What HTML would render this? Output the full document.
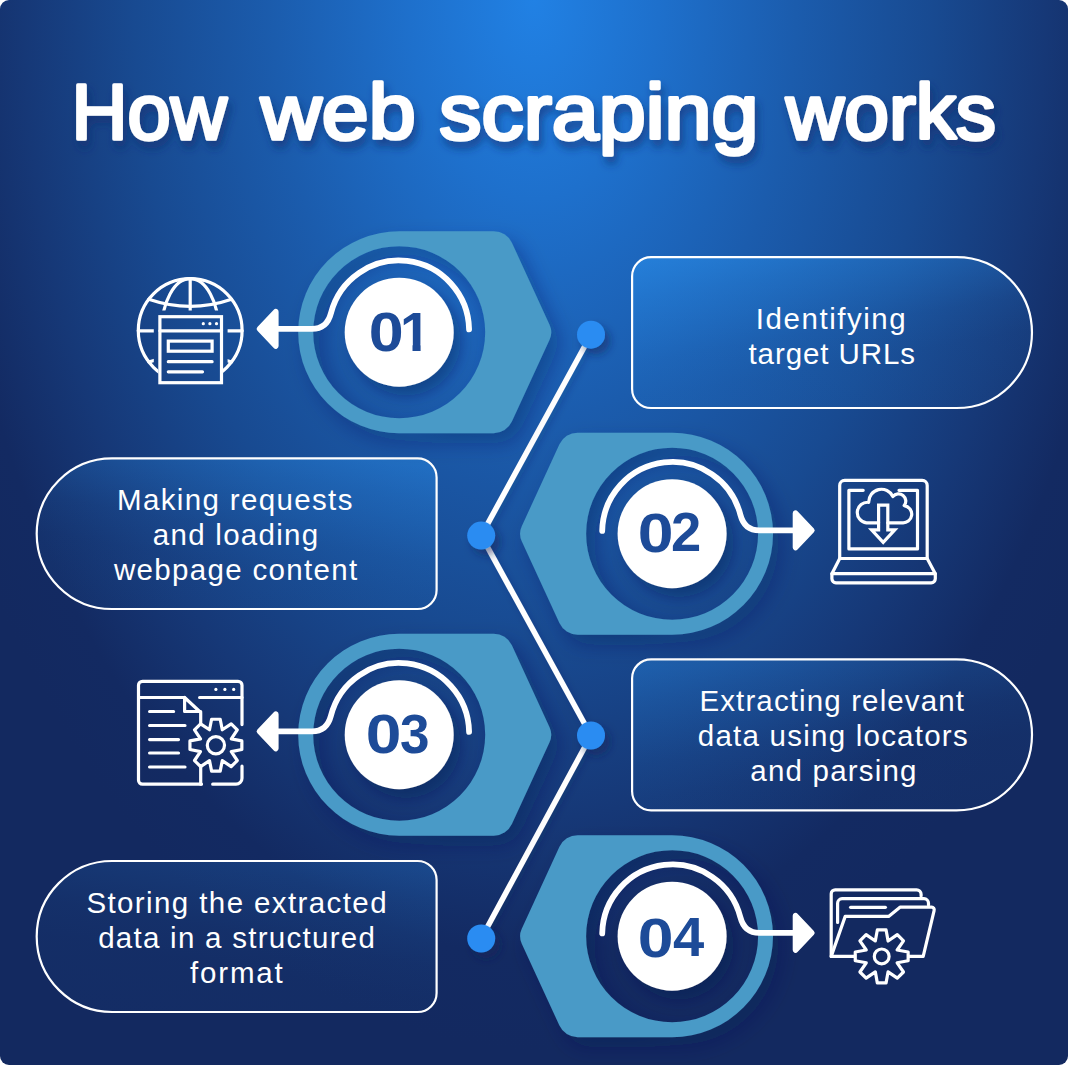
<!DOCTYPE html>
<html lang="en"><head><meta charset="utf-8"><title>How web scraping works</title>
<style>
html,body{margin:0;padding:0;background:#fff}
#card{position:absolute;left:0;top:0;width:1068px;height:1065px;border-radius:9px;overflow:hidden;
background:radial-gradient(ellipse 655px 1050px at 50% 0,#2181e4 0%,#1e70cc 19%,#1b5cad 40%,#184a91 61%,#163877 78%,#132a62 91%,#132960 100%)}
svg{position:absolute;left:0;top:0}
text{font-family:"Liberation Sans",Arial,sans-serif;white-space:pre}
.ttl{font-weight:normal;font-size:77.6px;fill:#fff;stroke:#fff;stroke-width:3.4px;stroke-linejoin:round}
.p{font-size:29.5px;fill:#fff}
.n{font-weight:bold;font-size:55px;fill:#1d4b98}
.ic{fill:none;stroke:#fff;stroke-width:3.2;stroke-linecap:round;stroke-linejoin:round}
</style></head><body>
<div id="card">
<svg width="1068" height="1073" viewBox="0 0 1068 1073">
<defs>
<filter id="ds" x="-30%" y="-30%" width="170%" height="170%"><feDropShadow dx="8" dy="10" stdDeviation="10" flood-color="#0a1c55" flood-opacity=".34"/></filter>
<filter id="ds2" x="-40%" y="-40%" width="190%" height="190%"><feDropShadow dx="7" dy="9" stdDeviation="7" flood-color="#081a50" flood-opacity=".36"/></filter>
<filter id="ds3" x="-10%" y="-10%" width="130%" height="130%"><feDropShadow dx="5" dy="6" stdDeviation="4" flood-color="#0a1c55" flood-opacity=".5"/></filter>
<filter id="ds4" x="-10%" y="-10%" width="130%" height="130%"><feDropShadow dx="3" dy="4" stdDeviation="3.5" flood-color="#0a1c55" flood-opacity=".22"/></filter>
<filter id="tsh" x="-5%" y="-30%" width="110%" height="180%"><feDropShadow dx="3" dy="7" stdDeviation="4.5" flood-color="#0b2a6e" flood-opacity=".6"/></filter>
<linearGradient id="bgR" x1="0" y1="0" x2=".511" y2="1.095"><stop offset="0" stop-color="#2a8eea" stop-opacity=".62"/><stop offset=".22" stop-color="#2a8eea" stop-opacity=".4"/><stop offset=".53" stop-color="#2a8eea" stop-opacity=".17"/><stop offset=".71" stop-color="#2a8eea" stop-opacity=".11"/><stop offset="1" stop-color="#2a8eea" stop-opacity=".09"/></linearGradient>
<linearGradient id="bgL" x1="1" y1="0" x2=".489" y2="1.095"><stop offset="0" stop-color="#2a8eea" stop-opacity=".62"/><stop offset=".22" stop-color="#2a8eea" stop-opacity=".4"/><stop offset=".53" stop-color="#2a8eea" stop-opacity=".17"/><stop offset=".71" stop-color="#2a8eea" stop-opacity=".11"/><stop offset="1" stop-color="#2a8eea" stop-opacity=".09"/></linearGradient>
</defs>

<g stroke="#fff" stroke-width="2.2">
<path d="M651.1 257.2H956.6A75.4 75.4 0 0 1 956.6 408H651.1A19 19 0 0 1 632.1 389V276.2A19 19 0 0 1 651.1 257.2Z" fill="url(#bgR)" fill-opacity="1"/>
<path d="M112 458.4H417.6A19 19 0 0 1 436.6 477.4V590A19 19 0 0 1 417.6 609H112A75.3 75.3 0 0 1 112 458.4Z" fill="url(#bgL)" fill-opacity="0.74"/>
<path d="M651.1 659.3H956.5A75.5 75.5 0 0 1 956.5 810.3H651.1A19 19 0 0 1 632.1 791.3V678.3A19 19 0 0 1 651.1 659.3Z" fill="url(#bgR)" fill-opacity="0.6"/>
<path d="M112.2 861H417.6A19 19 0 0 1 436.6 880V993A19 19 0 0 1 417.6 1012H112.2A75.5 75.5 0 0 1 112.2 861Z" fill="url(#bgL)" fill-opacity="0.42"/>
</g>
<g filter="url(#ds4)"><polyline points="591,334.7 481.2,535.6 591,735.5 481.2,938.5" fill="none" stroke="#fff" stroke-width="5.5" stroke-linejoin="round" stroke-linecap="round"/></g>
<path d="M399.2 231.2L493.69 231.2A20 20 0 0 1 511.86 242.84L549.53 324.67A18 18 0 0 1 549.53 339.73L511.86 421.56A20 20 0 0 1 493.69 433.2L399.2 433.2A101 101 0 0 1 399.2 231.2ZM313.2 332.2a86 86 0 1 0 172 0a86 86 0 1 0 -172 0Z" fill="#499ac7" fill-rule="evenodd" filter="url(#ds)"/>
<path d="M672.1 432.7L577.61 432.7A20 20 0 0 0 559.44 444.34L521.77 526.17A18 18 0 0 0 521.77 541.23L559.44 623.06A20 20 0 0 0 577.61 634.7L672.1 634.7A101 101 0 0 0 672.1 432.7ZM586.1 533.7a86 86 0 1 0 172 0a86 86 0 1 0 -172 0Z" fill="#499ac7" fill-rule="evenodd" filter="url(#ds)"/>
<path d="M399.2 633.7L493.69 633.7A20 20 0 0 1 511.86 645.34L549.53 727.17A18 18 0 0 1 549.53 742.23L511.86 824.06A20 20 0 0 1 493.69 835.7L399.2 835.7A101 101 0 0 1 399.2 633.7ZM313.2 734.7a86 86 0 1 0 172 0a86 86 0 1 0 -172 0Z" fill="#499ac7" fill-rule="evenodd" filter="url(#ds)"/>
<path d="M672.1 835.2L577.61 835.2A20 20 0 0 0 559.44 846.84L521.77 928.67A18 18 0 0 0 521.77 943.73L559.44 1025.56A20 20 0 0 0 577.61 1037.2L672.1 1037.2A101 101 0 0 0 672.1 835.2ZM586.1 936.2a86 86 0 1 0 172 0a86 86 0 1 0 -172 0Z" fill="#499ac7" fill-rule="evenodd" filter="url(#ds)"/>
<circle cx="399.2" cy="332.2" r="54.5" fill="#fff" filter="url(#ds2)"/>
<path d="M469.09 329.35A70.2 70.2 0 0 0 330.92 313.2C328.67 321.92 322.92 328.9 311.92 328.9L276.6 328.9" fill="none" stroke="#fff" stroke-width="5.8" stroke-linecap="round"/>
<path d="M278.6 311.71A2.8 2.8 0 0 0 273.77 309.78L257.43 326.97A2.8 2.8 0 0 0 257.43 330.83L273.77 348.02A2.8 2.8 0 0 0 278.6 346.09Z" fill="#fff"/>
<circle cx="672.1" cy="533.7" r="54.5" fill="#fff" filter="url(#ds2)"/>
<path d="M602.21 530.85A70.2 70.2 0 0 1 740.38 514.7C742.63 523.42 748.38 530.4 759.38 530.4L794.7 530.4" fill="none" stroke="#fff" stroke-width="5.8" stroke-linecap="round"/>
<path d="M792.7 513.21A2.8 2.8 0 0 1 797.53 511.28L813.87 528.47A2.8 2.8 0 0 1 813.87 532.33L797.53 549.52A2.8 2.8 0 0 1 792.7 547.59Z" fill="#fff"/>
<circle cx="399.2" cy="734.7" r="54.5" fill="#fff" filter="url(#ds2)"/>
<path d="M469.09 731.85A70.2 70.2 0 0 0 330.92 715.7C328.67 724.42 322.92 731.4 311.92 731.4L276.6 731.4" fill="none" stroke="#fff" stroke-width="5.8" stroke-linecap="round"/>
<path d="M278.6 714.21A2.8 2.8 0 0 0 273.77 712.28L257.43 729.47A2.8 2.8 0 0 0 257.43 733.33L273.77 750.52A2.8 2.8 0 0 0 278.6 748.59Z" fill="#fff"/>
<circle cx="672.1" cy="936.2" r="54.5" fill="#fff" filter="url(#ds2)"/>
<path d="M602.21 933.35A70.2 70.2 0 0 1 740.38 917.2C742.63 925.92 748.38 932.9 759.38 932.9L794.7 932.9" fill="none" stroke="#fff" stroke-width="5.8" stroke-linecap="round"/>
<path d="M792.7 915.71A2.8 2.8 0 0 1 797.53 913.78L813.87 930.97A2.8 2.8 0 0 1 813.87 934.83L797.53 952.02A2.8 2.8 0 0 1 792.7 950.09Z" fill="#fff"/>
<g fill="#2a8cf2" filter="url(#ds3)"><circle cx="591" cy="334.7" r="14"/><circle cx="481.2" cy="535.6" r="14"/><circle cx="591" cy="735.5" r="14"/><circle cx="481.2" cy="938.5" r="14"/></g>
<clipPath id="c1a"><path clip-rule="evenodd" d="M100 250H290V410H100ZM158.4 315.2H223V390H158.4Z"/></clipPath>
<clipPath id="c1b"><path clip-rule="evenodd" d="M100 250H290V410H100ZM153.8 310.6H227.6V390H153.8Z"/></clipPath>
<g class="ic" stroke-width="3">
<circle cx="190.2" cy="330.6" r="51.9" clip-path="url(#c1a)"/>
<g clip-path="url(#c1b)">
<path d="M190.2 278.7V320"/>
<ellipse cx="190.2" cy="330.6" rx="28.5" ry="51.9"/>
<path d="M148.8 299.3Q190.2 313.5 231.6 299.3"/>
<path d="M148.8 361.9Q190.2 347.7 231.6 361.9"/>
<path d="M138.3 330.8H242.1"/>
</g>
<rect x="159.9" y="316.7" width="61.6" height="66" stroke-linejoin="miter"/>
<path d="M159.9 330.8H221.5"/>
<rect x="168.3" y="341.1" width="43.8" height="10.1" stroke-linejoin="miter"/>
<path d="M168.3 361.7H212.1M168.3 371.8H202.5"/>
</g>
<g fill="#fff"><circle cx="203.3" cy="323.7" r="1.6"/><circle cx="209.9" cy="323.7" r="1.6"/><circle cx="216.5" cy="323.7" r="1.6"/></g>
<g class="ic" stroke-width="3.4">
<path d="M839.7 558.5V485.4a5 5 0 0 1 5-5H922.2a5 5 0 0 1 5 5V558.5"/>
<path d="M839.7 558.5H927.2L935.3 573.7V578.8a4 4 0 0 1-4 4H835.9a4 4 0 0 1-4-4V573.7Z"/>
<path d="M831.9 573.7H935.3"/>
<path d="M863.2 490.3H848.9V548.9H917.5V490.3H899"/>
<path d="M878.6 522.8H866.5A10.3 10.3 0 0 1 868.7 502.3A12.7 12.7 0 0 1 892.9 496.6A6.6 6.6 0 0 1 904.2 505.6A8.6 8.6 0 0 1 901.9 522.8H887.8"/>
<path d="M878.6 505.1H887.8V529.9H894.8L883.2 542.3L871.6 529.9H878.6Z" stroke-linejoin="miter"/>
</g>
<g class="ic" stroke-width="3.4">
<path d="M201.5 784.2H142.5a4 4 0 0 1-4-4V685.3a4 4 0 0 1 4-4H238a4 4 0 0 1 4 4V724.6"/>
<path d="M242 766.2V778.2a6 6 0 0 1-6 6H212.7"/>
<path d="M138.5 697.5H184.6M199.6 697.5H242"/>
<path d="M184.6 697.5V711.5H200.7M184.6 697.5L200.7 712.5V723.3M200.7 767V784.2"/>
<path d="M149.6 711.5H173.6M149.6 725.5H185M149.6 739.6H178.5M149.6 753H178.5M149.6 767H185"/>
<path d="M222.29 729.77L220.2 719.25L211.6 719.25L209.51 729.77L200.59 723.82L194.52 729.89L200.47 738.81L189.95 740.9L189.95 749.5L200.47 751.59L194.52 760.51L200.59 766.58L209.51 760.63L211.6 771.15L220.2 771.15L222.29 760.63L231.21 766.58L237.28 760.51L231.33 751.59L241.85 749.5L241.85 740.9L231.33 738.81L237.28 729.89L231.21 723.82Z"/>
<circle cx="215.9" cy="745.2" r="8.6"/>
</g>
<g fill="#fff"><circle cx="215.9" cy="689.4" r="1.6"/><circle cx="224.9" cy="689.4" r="1.6"/><circle cx="233.7" cy="689.4" r="1.6"/></g>
<g class="ic" stroke-width="3.4">
<path d="M831.2 956.4V893.8a4 4 0 0 1 4-4H916.6a4.5 4.5 0 0 1 4.5 4.5V896"/>
<path d="M837.6 922.5V903.2a4.5 4.5 0 0 1 4.5-4.5H924a4.5 4.5 0 0 1 4.5 4.5V905"/>
<path d="M850.6 907.3H885.4"/>
<path d="M854 956.4H831.2L845.2 916.4H888.6L900 907.2H931.6a2.6 2.6 0 0 1 2.5 3.4L923.2 956.4H909.4"/>
<path d="M888.09 940.97L886.08 929.96L877.32 929.96L875.31 940.97L866.1 934.61L859.91 940.8L866.27 950.01L855.26 952.02L855.26 960.78L866.27 962.79L859.91 972L866.1 978.19L875.31 971.83L877.32 982.84L886.08 982.84L888.09 971.83L897.3 978.19L903.49 972L897.13 962.79L908.14 960.78L908.14 952.02L897.13 950.01L903.49 940.8L897.3 934.61Z"/>
<circle cx="881.7" cy="956.4" r="7.4"/>
</g>
<g filter="url(#tsh)"><text class="ttl" transform="translate(71.45 139.1) scale(1.0003 1)">How</text>
<text class="ttl" transform="translate(260.8 139.1) scale(1.0877 1)">web</text>
<text class="ttl" transform="translate(439.26 139.1) scale(1.0881 1)">scraping</text>
<text class="ttl" transform="translate(786.11 139.1) scale(1.0362 1)">works</text></g>
<text class="p" x="755.85" y="329.2" letter-spacing="1.535">Identifying</text>
<text class="p" x="748.5" y="364.3" letter-spacing="0.905">target URLs</text>
<text class="p" x="117" y="509.9" letter-spacing="1.354">Making requests</text>
<text class="p" x="152.75" y="545" letter-spacing="1.285">and loading</text>
<text class="p" x="113.9" y="580.2" letter-spacing="1.321">webpage content</text>
<text class="p" x="699.4" y="711.3" letter-spacing="1.128">Extracting relevant</text>
<text class="p" x="697.85" y="746.4" letter-spacing="1.231">data using locators</text>
<text class="p" x="750.35" y="781.2" letter-spacing="1.200">and parsing</text>
<text class="p" x="86.4" y="912.5" letter-spacing="1.398">Storing the extracted</text>
<text class="p" x="98.15" y="947.8" letter-spacing="1.271">data in a structured</text>
<text class="p" x="190" y="982.9" letter-spacing="1.820">format</text>
<clipPath id="c1"><path d="M360 305.5H432V344.8H420.6V351.5H412.5V344.8H402.2V353.5H360Z"/></clipPath><text class="n" clip-path="url(#c1)"><tspan x="368.73" y="350.7" textLength="34.94" lengthAdjust="spacingAndGlyphs">0</tspan><tspan x="400" y="350.5" textLength="30.59" lengthAdjust="spacingAndGlyphs">1</tspan></text>
<text class="n"><tspan x="637.67" y="551.6" textLength="35.76" lengthAdjust="spacingAndGlyphs">0</tspan><tspan x="671.02" y="551.3" textLength="30.24" lengthAdjust="spacingAndGlyphs">2</tspan></text>
<text class="n"><tspan x="365.88" y="753" textLength="35.65" lengthAdjust="spacingAndGlyphs">0</tspan><tspan x="399.99" y="753" textLength="29.52" lengthAdjust="spacingAndGlyphs">3</tspan></text>
<text class="n"><tspan x="637.67" y="956.7" textLength="35.76" lengthAdjust="spacingAndGlyphs">0</tspan><tspan x="673.03" y="956.4" textLength="31.21" lengthAdjust="spacingAndGlyphs">4</tspan></text>
</svg></div></body></html>
